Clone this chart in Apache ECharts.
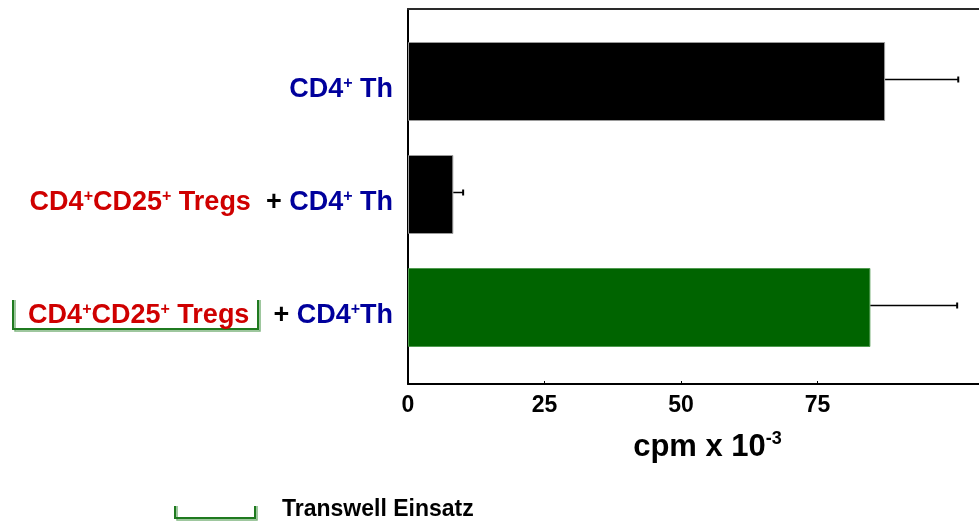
<!DOCTYPE html>
<html>
<head>
<meta charset="utf-8">
<script src="https://cdn.jsdelivr.net/npm/echarts@6/dist/echarts.min.js"></script>
<style>
  html, body { margin: 0; padding: 0; background: #ffffff; }
  #chart { width: 979px; height: 521px; }
</style>
</head>
<body>
<div id="chart"></div>
<script>
// Proliferation of CD4+ Th cells (cpm x 10^-3), alone, with Tregs, and with Tregs behind a transwell insert
const groups = ['th', 'tregsTh', 'transwell'];
const cpmMean = [87.4, 8.3, 84.7];
const cpmError = [13.4, 1.8, 15.9];
const tickValues = [0, 25, 50, 75];
const barColors = ['#000000', '#000000', '#006400'];
const barEdges = ['#9a9a9a', '#9a9a9a', '#4f9a4f'];
const axisTitle = 'cpm x 10';
const axisTitleExp = '-3';
const legendText = 'Transwell Einsatz';

const FONT = '"Liberation Sans", Arial, sans-serif';
const X_MAX = 104.6;

const groupLabels = {
  th: '{b|CD4}{bs|+}{b| Th}',
  tregsTh: '{r|CD4}{rs|+}{r|CD25}{rs|+}{r| Tregs}{k|  +} {b|CD4}{bs|+}{b| Th}',
  transwell: '{r|CD4}{rs|+}{r|CD25}{rs|+}{r| Tregs}{gap|}{k|+} {b|CD4}{bs|+}{b|Th}'
};

const mainText = { fontSize: 27, fontWeight: 'bold', fontFamily: FONT, lineHeight: 30 };
const supText = { fontSize: 16, fontWeight: 'bold', fontFamily: FONT, verticalAlign: 'top', padding: [1, 0, 0, 0] };

const chart = echarts.init(document.getElementById('chart'), null, { renderer: 'canvas' });

const barData = cpmMean.map((v, i) => ({
  value: v,
  itemStyle: { color: barColors[i], borderColor: barEdges[i], borderWidth: 1 }
}));
const errData = cpmMean.map((v, i) => [i, v, cpmError[i]]);

// bracket drawn as a dark line with a lighter shadow line beside it
function bracket(x0, x1, yTop, yBottom) {
  return [
    {
      type: 'polyline',
      shape: { points: [[x0 + 2, yTop], [x0 + 2, yBottom + 2], [x1 + 2, yBottom + 2], [x1 + 2, yTop]] },
      style: { stroke: '#7fb57f', lineWidth: 1.5, fill: null }
    },
    {
      type: 'polyline',
      shape: { points: [[x0, yTop], [x0, yBottom], [x1, yBottom], [x1, yTop]] },
      style: { stroke: '#1f7a1f', lineWidth: 2, fill: null }
    }
  ];
}

const option = {
  backgroundColor: '#ffffff',
  animation: false,
  textStyle: { fontFamily: FONT },
  grid: [
    { left: 408, right: 0, top: 9, bottom: 137 },
    { left: 408, right: 0, top: 25, height: 339 }
  ],
  xAxis: [
    {
      gridIndex: 0, type: 'value', position: 'bottom', min: 0, max: X_MAX, interval: 25,
      axisLine: { show: true, onZero: false, lineStyle: { color: '#000', width: 2 } },
      axisTick: { show: true, inside: true, length: 3, customValues: tickValues, lineStyle: { color: '#000', width: 1 } },
      axisLabel: {
        customValues: tickValues, margin: 10, color: '#000', fontSize: 23, fontWeight: 'bold', fontFamily: FONT
      },
      splitLine: { show: false },
      name: '{t|' + axisTitle + '}{e|' + axisTitleExp + '}',
      nameLocation: 'middle', nameGap: 46,
      nameTextStyle: {
        padding: [0, 0, 0, 28],
        rich: {
          t: { fontSize: 31, fontWeight: 'bold', fontFamily: FONT, color: '#000', lineHeight: 34 },
          e: { fontSize: 18, fontWeight: 'bold', fontFamily: FONT, color: '#000', verticalAlign: 'top' }
        }
      }
    },
    {
      gridIndex: 0, type: 'value', position: 'top', min: 0, max: X_MAX,
      axisLine: { show: true, onZero: false, lineStyle: { color: '#2a2a2a', width: 2 } },
      axisTick: { show: false }, axisLabel: { show: false }, splitLine: { show: false }
    },
    {
      gridIndex: 1, type: 'value', min: 0, max: X_MAX, show: false
    }
  ],
  yAxis: [
    {
      gridIndex: 0, type: 'value', min: 0, max: 1,
      axisLine: { show: true, onZero: false, lineStyle: { color: '#000', width: 2 } },
      axisTick: { show: false }, axisLabel: { show: false }, splitLine: { show: false }
    },
    {
      gridIndex: 1, type: 'category', data: groups, inverse: true,
      axisLine: { show: false }, axisTick: { show: false }, splitLine: { show: false },
      axisLabel: {
        margin: 15,
        padding: [16, 0, 0, 0],
        fontSize: 27, fontWeight: 'bold', fontFamily: FONT, color: '#000',
        formatter: (v) => groupLabels[v],
        rich: {
          b: Object.assign({ color: '#00009c' }, mainText),
          bs: Object.assign({ color: '#00009c' }, supText),
          r: Object.assign({ color: '#cf0000' }, mainText),
          rs: Object.assign({ color: '#cf0000' }, supText),
          k: Object.assign({ color: '#000000' }, mainText),
          gap: { width: 24, height: 30 }
        }
      }
    }
  ],
  series: [
    {
      type: 'bar', xAxisIndex: 2, yAxisIndex: 1,
      barWidth: 79,
      data: barData
    },
    {
      type: 'custom', xAxisIndex: 2, yAxisIndex: 1,
      encode: { x: 1, y: 0 },
      z: 5,
      data: errData,
      renderItem: function (params, api) {
        const idx = api.value(0);
        const mean = api.value(1);
        const err = api.value(2);
        const a = api.coord([mean, idx]);
        const b = api.coord([mean + err, idx]);
        return {
          type: 'group',
          children: [
            { type: 'line', shape: { x1: a[0], y1: a[1] - 2, x2: b[0], y2: b[1] - 2 }, style: { stroke: '#000', lineWidth: 1.5 } },
            { type: 'line', shape: { x1: b[0], y1: b[1] - 5, x2: b[0], y2: b[1] + 1 }, style: { stroke: '#000', lineWidth: 2 } }
          ]
        };
      }
    }
  ],
  graphic: [
    ...bracket(13, 258, 300, 329),
    ...bracket(175, 255, 506, 518),
    {
      type: 'text', left: 282, top: 498,
      style: { text: legendText, fill: '#000', fontSize: 23, fontWeight: 'bold', fontFamily: FONT }
    }
  ]
};

chart.setOption(option);
</script>
</body>
</html>
